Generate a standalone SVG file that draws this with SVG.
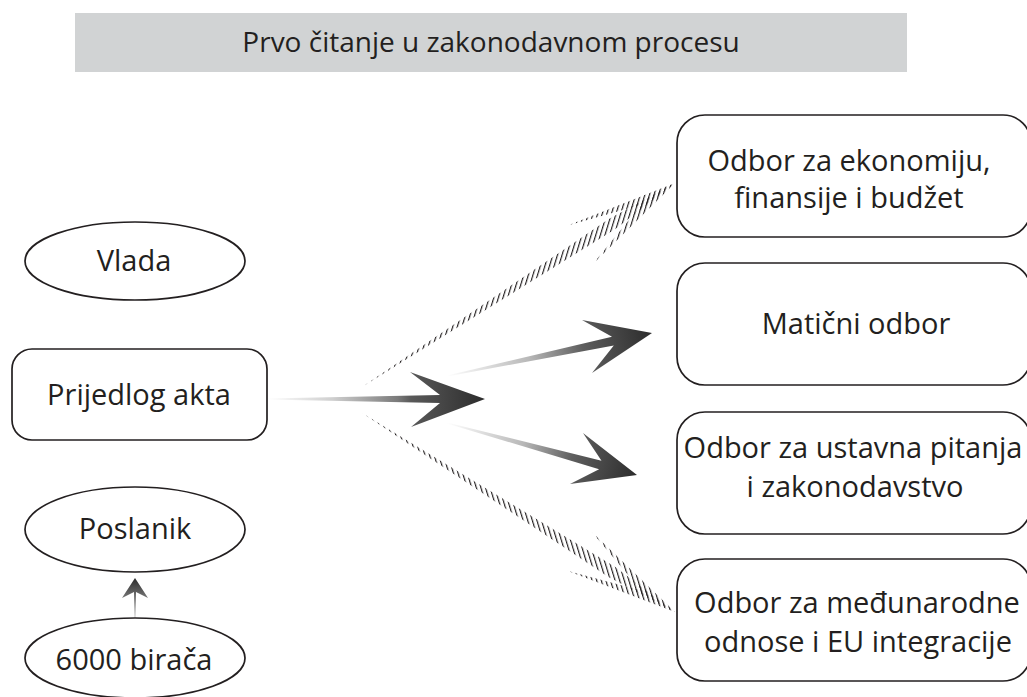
<svg xmlns="http://www.w3.org/2000/svg" width="1027" height="697" viewBox="0 0 1027 697">
<style>
.box{fill:#ffffff;stroke:#231f20;stroke-width:1.7}
.lbl{font-family:"Open Sans","Liberation Sans",sans-serif;font-size:29px;fill:#231f20;text-anchor:middle}
.ttl{font-family:"Open Sans","Liberation Sans",sans-serif;font-size:28px;fill:#231f20;text-anchor:middle}
.hA{fill:url(#hatchA)}
.hB{fill:url(#hatchB)}
</style>
<defs>
<linearGradient id="gMid" gradientUnits="userSpaceOnUse" x1="267" y1="399" x2="485" y2="399">
<stop offset="0" stop-color="#ffffff"/><stop offset="0.3" stop-color="#cfcfcf"/><stop offset="0.6" stop-color="#7a7a7a"/><stop offset="0.66" stop-color="#595959"/><stop offset="1" stop-color="#2c2c2c"/>
</linearGradient>
<linearGradient id="gUp" gradientUnits="userSpaceOnUse" x1="447" y1="376" x2="652" y2="333">
<stop offset="0" stop-color="#ffffff"/><stop offset="0.4" stop-color="#b8b8b8"/><stop offset="0.66" stop-color="#5e5e5e"/><stop offset="1" stop-color="#2c2c2c"/>
</linearGradient>
<linearGradient id="gDn" gradientUnits="userSpaceOnUse" x1="447" y1="423" x2="637" y2="475">
<stop offset="0" stop-color="#ffffff"/><stop offset="0.4" stop-color="#b8b8b8"/><stop offset="0.66" stop-color="#5e5e5e"/><stop offset="1" stop-color="#2c2c2c"/>
</linearGradient>
<linearGradient id="gVert" gradientUnits="userSpaceOnUse" x1="135" y1="619" x2="135" y2="578">
<stop offset="0" stop-color="#e0e0e0"/><stop offset="0.5" stop-color="#777777"/><stop offset="1" stop-color="#2c2c2c"/>
</linearGradient>
<pattern id="hatchA" patternUnits="userSpaceOnUse" width="4.6" height="10" patternTransform="skewX(-17)">
<rect x="0" y="0" width="1.2" height="10" fill="#231f20"/>
</pattern>
<pattern id="hatchB" patternUnits="userSpaceOnUse" width="4.6" height="10" patternTransform="skewX(17)">
<rect x="0" y="0" width="1.2" height="10" fill="#231f20"/>
</pattern>
</defs>

<g id="title">
<rect x="75" y="13" width="832" height="59" fill="#d1d3d4"/>
<text class="ttl" x="491" y="52">Prvo čitanje u zakonodavnom procesu</text>
</g>

<g id="connectors">
<polygon fill="url(#gMid)" points="267,398.5 440,395 410,372 485,399 411,427 440,403 267,399.5"/>
<polygon fill="url(#gUp)" points="447,375.5 612,336.8 582,320 652,333 592,373 613.8,345.6 447,376.5"/>
<polygon fill="url(#gDn)" points="447,422.5 601.5,460.7 583,433 637,475 570,484 599.1,469.3 447,423.5"/>
<g id="hatched-up">
<polygon class="hA" points="362,387 608.8,219 675,183 615.4,229"/>
<polygon class="hA" points="567.7,225.4 675,183 641.5,204.8"/>
<polygon class="hA" points="592.9,264 675,183 641.5,204.8"/>
</g>
<g id="hatched-down">
<polygon class="hB" points="362,413 614.9,566.7 675,612 608.5,576.9"/>
<polygon class="hB" points="591.9,532 675,612 641.2,590.5"/>
<polygon class="hB" points="567.3,570.8 675,612 641.2,590.5"/>
</g>
<polygon fill="url(#gVert)" points="134.4,619 134,592 122,598 135,578 148,598 136,592 135.6,619"/>
</g>

<g id="vlada">
<ellipse class="box" cx="135" cy="261" rx="110" ry="39"/>
<text class="lbl" x="134" y="271">Vlada</text>
</g>
<g id="prijedlog">
<rect class="box" x="12" y="349" width="255" height="91" rx="20" ry="20"/>
<text class="lbl" x="139" y="405">Prijedlog akta</text>
</g>
<g id="poslanik">
<ellipse class="box" cx="135" cy="529.5" rx="110" ry="42.5"/>
<text class="lbl" x="135" y="539">Poslanik</text>
</g>
<g id="biraci">
<ellipse class="box" cx="135" cy="658" rx="110" ry="40"/>
<text class="lbl" x="134" y="670">6000 birača</text>
</g>

<g id="odbor-ekonomija">
<rect class="box" x="677" y="115" width="354" height="122" rx="28" ry="28"/>
<text class="lbl" x="849" y="171">Odbor za ekonomiju,</text>
<text class="lbl" x="849" y="208">finansije i budžet</text>
</g>
<g id="maticni-odbor">
<rect class="box" x="677" y="263" width="354" height="122" rx="28" ry="28"/>
<text class="lbl" x="856" y="334">Matični odbor</text>
</g>
<g id="odbor-ustavna">
<rect class="box" x="677" y="412" width="354" height="122" rx="28" ry="28"/>
<text class="lbl" x="853" y="458">Odbor za ustavna pitanja</text>
<text class="lbl" x="855" y="497">i zakonodavstvo</text>
</g>
<g id="odbor-medjunarodni">
<rect class="box" x="677" y="559" width="354" height="122" rx="28" ry="28"/>
<text class="lbl" x="857" y="613">Odbor za međunarodne</text>
<text class="lbl" x="858" y="652">odnose i EU integracije</text>
</g>
</svg>
